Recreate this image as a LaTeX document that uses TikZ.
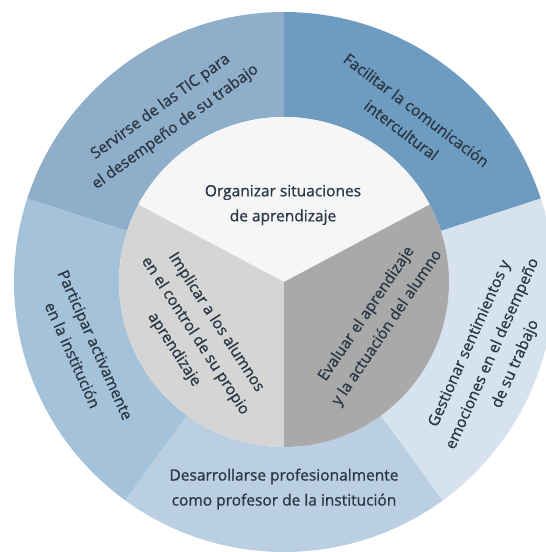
\documentclass[tikz,border=0pt]{standalone}
\usepackage{fontspec}
\setmainfont{Open Sans}
\newfontfamily\lblfont{Open Sans}[FakeBold=0.9]
\definecolor{txt}{HTML}{2B3744}
\tikzset{lbl/.style={text=txt, align=center, font=\lblfont\fontsize{15.5}{25}\selectfont}}
\begin{document}
\begin{tikzpicture}[x=1pt,y=1pt]
\useasboundingbox (0,0) rectangle (546,552);
\coordinate (c) at (284,270);
% outer ring
\definecolor{col}{HTML}{6E9CC1}
\fill[col] ([shift={(c)}]18:165) arc (18:90:165) -- ([shift={(c)}]90:270) arc (90:18:270) -- cycle;
\definecolor{col}{HTML}{8FAEC9}
\fill[col] ([shift={(c)}]90:165) arc (90:162:165) -- ([shift={(c)}]162:270) arc (162:90:270) -- cycle;
\definecolor{col}{HTML}{A4C2DA}
\fill[col] ([shift={(c)}]162:165) arc (162:234:165) -- ([shift={(c)}]234:270) arc (234:162:270) -- cycle;
\definecolor{col}{HTML}{BACFE1}
\fill[col] ([shift={(c)}]234:165) arc (234:306:165) -- ([shift={(c)}]306:270) arc (306:234:270) -- cycle;
\definecolor{col}{HTML}{D6E3EE}
\fill[col] ([shift={(c)}]306:165) arc (306:378:165) -- ([shift={(c)}]378:270) arc (378:306:270) -- cycle;
% inner circle
\definecolor{col}{HTML}{F6F6F6}
\fill[col] (c) -- ([shift={(c)}]28:165) arc (28:152:165) -- cycle;
\definecolor{col}{HTML}{D5D5D5}
\fill[col] (c) -- ([shift={(c)}]152:165) arc (152:270:165) -- cycle;
\definecolor{col}{HTML}{A9A9A9}
\fill[col] (c) -- ([shift={(c)}]270:165) arc (270:388:165) -- cycle;
% labels
\node[lbl] (org) at (283,347) {Organizar situaciones\\de aprendizaje};
\node[lbl, rotate=-57] (impl) at (195,216) {Implicar a los alumnos\\en el control de su propio\\aprendizaje};
\node[lbl, rotate=56] (eval) at (377,231) {Evaluar el aprendizaje\\y la actuación del alumno};
\node[lbl, rotate=36] (tic) at (168,435) {Servirse de las TIC para\\el desempeño de su trabajo};
\node[lbl, rotate=-37] (fac) at (409,432) {Facilitar la comunicación\\intercultural};
\node[lbl, rotate=-66] (part) at (84,202) {Participar activamente\\en la institución};
\node[lbl] (des) at (284,63) {Desarrollarse profesionalmente\\como profesor de la institución};
\node[lbl, rotate=66] (gest) at (493,198) {Gestionar sentimientos y\\emociones en el desempeño\\de su trabajo};
\end{tikzpicture}
\end{document}
